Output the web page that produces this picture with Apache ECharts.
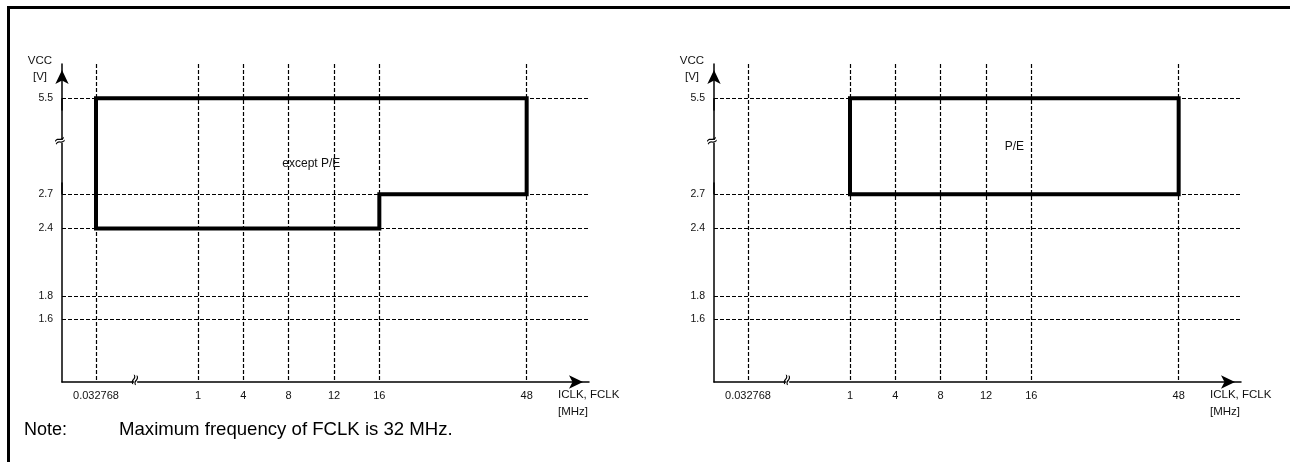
<!DOCTYPE html>
<html>
<head>
<meta charset="utf-8">
<script src="https://cdn.jsdelivr.net/npm/echarts@6/dist/echarts.min.js"></script>
<style>
html,body{margin:0;padding:0;background:#fff;}
#chart{width:1290px;height:462px;}
</style>
</head>
<body>
<div id="chart"></div>
<script>
// ---- data ----
const freqTicks = ['0.032768', '1', '4', '8', '12', '16', '48'];
const vccTicks = [1.6, 1.8, 2.4, 2.7, 5.5];
// operating area "except P/E"
const exceptPEFreq = ['0.032768', '48', '48', '16', '16', '0.032768', '0.032768'];
const exceptPEVcc  = [5.5, 5.5, 2.7, 2.7, 2.4, 2.4, 5.5];
// operating area "P/E"
const peFreq = ['1', '48', '48', '1', '1'];
const peVcc  = [5.5, 5.5, 2.7, 2.7, 5.5];
const xName = 'ICLK, FCLK\n[MHz]';
const yName = 'VCC\n[V]';
const noteLabel = 'Note:';
const noteText = 'Maximum frequency of FCLK is 32 MHz.';

// ---- layout of the schematic (non-linear) frequency axis: ordinal slots ----
const slotCount = 94;
const tickSlot = [6, 24, 32, 40, 48, 56, 82];
const categories = Array.from({length: slotCount}, () => '');
freqTicks.forEach((t, i) => { categories[tickSlot[i]] = t; });

const FONT = '"Liberation Sans", Arial, sans-serif';
const TXT = '#111';
const isTick = (index, value) => value !== '';

function pairs(xs, ys) { return xs.map((x, i) => [x, ys[i]]); }

function xAxisDef(gridIndex) {
  return {
    type: 'category', gridIndex, data: categories, boundaryGap: false,
    name: xName, nameLocation: 'end', nameGap: -31,
    nameTextStyle: {fontFamily: FONT, fontSize: 11.5, color: TXT, align: 'left', verticalAlign: 'top', lineHeight: 17, padding: [4, 0, 0, 0]},
    axisLine: {show: true, lineStyle: {color: '#000', width: 1.5}, symbol: ['none', 'arrow'], symbolSize: [10, 14], symbolOffset: [0, -6]},
    axisTick: {show: false, interval: isTick},
    axisLabel: {interval: isTick, margin: 8, fontFamily: FONT, fontSize: 11, color: TXT},
    splitLine: {show: true, interval: isTick, lineStyle: {color: '#000', width: 1.2, type: [4, 2]}}
  };
}
function yAxisDef(gridIndex) {
  return {
    type: 'value', gridIndex, min: 1.047, max: 5.802,
    breaks: [{start: 2.8, end: 5.4, gap: 0.646}],
    breakArea: {show: false, itemStyle: {opacity: 0, color: 'none', borderColor: 'none', borderWidth: 0}},
    name: yName, nameLocation: 'end', nameGap: -21,
    nameTextStyle: {fontFamily: FONT, fontSize: 11.5, color: TXT, align: 'center', verticalAlign: 'bottom', lineHeight: 16, padding: [0, 44, 0, 0]},
    axisLine: {show: true, lineStyle: {color: '#000', width: 1.5}, symbol: ['none', 'arrow'], symbolSize: [10, 14], symbolOffset: [0, -6]},
    axisTick: {show: false, customValues: vccTicks},
    axisLabel: {customValues: vccTicks, margin: 9, fontFamily: FONT, fontSize: 10.5, color: TXT, formatter: v => String(v)},
    splitLine: {show: true, lineStyle: {color: '#000', width: 1.2, type: [4, 2]}}
  };
}
function areaSeries(name, idx, xs, ys) {
  return {
    name, type: 'line', xAxisIndex: idx, yAxisIndex: idx,
    data: pairs(xs, ys), symbol: 'none', silent: true, clip: false,
    lineStyle: {color: '#000', width: 4, join: 'miter', cap: 'square'},
    z: 5
  };
}

const chart = echarts.init(document.getElementById('chart'), null, {renderer: 'canvas', width: 1290, height: 462});
const option = {
  backgroundColor: '#fff',
  animation: false,
  grid: [
    {left: 62, top: 64, width: 527, height: 318},
    {left: 714, top: 64, width: 527, height: 318}
  ],
  xAxis: [xAxisDef(0), xAxisDef(1)],
  yAxis: [yAxisDef(0), yAxisDef(1)],
  series: [
    areaSeries('except P/E', 0, exceptPEFreq, exceptPEVcc),
    areaSeries('P/E', 1, peFreq, peVcc)
  ]
};
chart.setOption(option);

function pt(g, label, v) {
  return chart.convertToPixel({gridIndex: g}, [categories.indexOf(label), v]);
}
const graphics = [];
// frame
graphics.push({type: 'line', shape: {x1: 8.5, y1: 7.5, x2: 1290, y2: 7.5}, style: {stroke: '#000', lineWidth: 3}});
graphics.push({type: 'line', shape: {x1: 8.5, y1: 6, x2: 8.5, y2: 462}, style: {stroke: '#000', lineWidth: 3}});
// area labels at bounding-box centres
function areaLabel(g, text, xs, ys) {
  const xsIdx = xs.map(x => categories.indexOf(x));
  const left = chart.convertToPixel({gridIndex: g}, [Math.min(...xsIdx), Math.max(...ys)]);
  const right = chart.convertToPixel({gridIndex: g}, [Math.max(...xsIdx), Math.min(...ys)]);
  graphics.push({type: 'text', x: (left[0] + right[0]) / 2, y: (left[1] + right[1]) / 2,
    style: {text, fontFamily: FONT, fontSize: 12, fill: TXT, align: 'center', verticalAlign: 'middle'}});
}
areaLabel(0, 'except P/E', exceptPEFreq, exceptPEVcc);
areaLabel(1, 'P/E', peFreq, peVcc);
// continuous axis line across the voltage break + break markers
[0, 1].forEach(g => {
  const top = pt(g, '0.032768', 5.5), low = pt(g, '0.032768', 2.7);
  const axisX = chart.convertToPixel({gridIndex: g}, [0, 2])[0];
  graphics.push({type: 'line', shape: {x1: axisX, y1: top[1], x2: axisX, y2: low[1]}, style: {stroke: '#000', lineWidth: 1.5}, z: 9});
  const yb = top[1] + (low[1] - top[1]) * 0.45;
  graphics.push({type: 'rect', shape: {x: axisX - 4, y: yb - 1.5, width: 8, height: 3}, style: {fill: '#fff'}, z: 10});
  graphics.push({type: 'text', x: axisX - 2, y: yb, z: 11, rotation: 0.3,
    style: {text: '≈', fontFamily: 'DejaVu Sans', fontSize: 15, fill: '#000', align: 'center', verticalAlign: 'middle'}});
  const xb = chart.convertToPixel({gridIndex: g}, [13, 1.047]);
  graphics.push({type: 'rect', shape: {x: xb[0] - 1.5, y: xb[1] - 4, width: 3, height: 8}, style: {fill: '#fff'}, z: 10});
  graphics.push({type: 'text', x: xb[0], y: xb[1] - 2, z: 11, rotation: Math.PI / 2 - 0.3,
    style: {text: '≈', fontFamily: 'DejaVu Sans', fontSize: 15, fill: '#000', align: 'center', verticalAlign: 'middle'}});
});
// note
graphics.push({type: 'text', x: 24, y: 430, style: {text: noteLabel, fontFamily: FONT, fontSize: 18, fill: '#000', verticalAlign: 'middle'}});
graphics.push({type: 'text', x: 119, y: 430, style: {text: noteText, fontFamily: FONT, fontSize: 18.6, fill: '#000', verticalAlign: 'middle'}});
chart.setOption({graphic: graphics});
</script>
</body>
</html>
